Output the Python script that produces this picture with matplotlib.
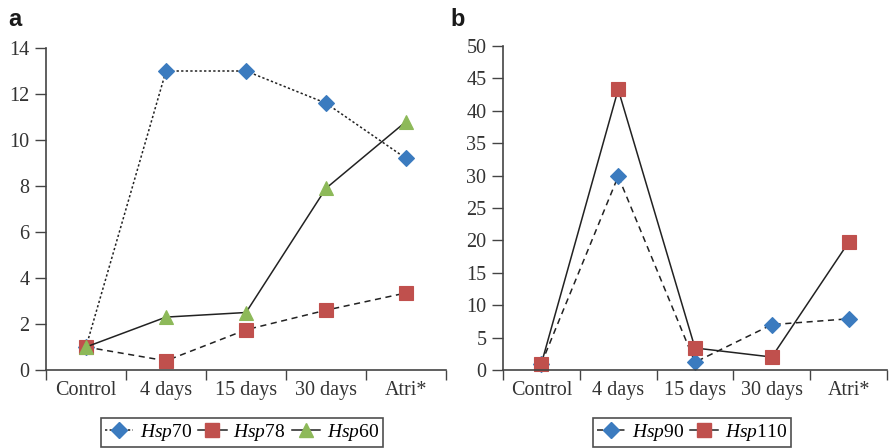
import matplotlib.pyplot as plt
from matplotlib.lines import Line2D

plt.rcParams["font.family"] = "Liberation Serif"
plt.rcParams["mathtext.fontset"] = "custom"
plt.rcParams["mathtext.it"] = "Liberation Serif:italic"
plt.rcParams["mathtext.rm"] = "Liberation Serif"

categories = ["Control", "4 days", "15 days", "30 days", "Atri*"]

hsp70 = [1.0, 13.0, 13.0, 11.6, 9.2]
hsp78 = [1.0, 0.4, 1.75, 2.6, 3.35]
hsp60 = [1.0, 2.3, 2.5, 7.9, 10.8]

hsp90 = [1.0, 29.9, 1.2, 7.0, 7.9]
hsp110 = [1.0, 43.3, 3.4, 2.0, 19.7]

blue = "#3b7bbf"
red = "#c0504d"
green = "#8db959"
ink = "#222222"
axcol = "#444444"

fig = plt.figure(figsize=(8.89, 4.48), dpi=100)
ax1 = fig.add_axes([46 / 889, 1 - 370 / 448, 400 / 889, 322 / 448])
ax2 = fig.add_axes([503 / 889, 1 - 370 / 448, 384 / 889, 324 / 448])

x = list(range(len(categories)))

def style(ax, ymax, ystep):
    ax.set_xlim(-0.5, len(categories) - 0.5)
    ax.set_ylim(0, ymax)
    ax.set_yticks(range(0, ymax + 1, ystep))
    ax.set_xticks([i - 0.5 for i in range(len(categories) + 1)])
    ax.set_xticklabels([])
    ax.set_xticks(x, minor=True)
    ax.set_xticklabels(categories, minor=True)
    ax.tick_params(axis="x", which="minor", length=0, pad=8)
    ax.tick_params(axis="x", which="major", length=7, width=1, color=axcol)
    ax.tick_params(axis="y", length=8, width=1, color=axcol, pad=4)
    ax.tick_params(which="both", labelsize=14.5, labelcolor="#333333")
    for s in ["top", "right"]:
        ax.spines[s].set_visible(False)
    for s in ["left", "bottom"]:
        ax.spines[s].set_color(axcol)
        ax.spines[s].set_linewidth(1.2)
        ax.spines[s].set_clip_on(False)

def series(ax, y, ls, marker, color, ms):
    ax.plot(x, y, linestyle=ls, color=ink, linewidth=1.1, marker=marker,
            markersize=ms, markerfacecolor=color, markeredgecolor=color,
            markeredgewidth=0.8, clip_on=False)

series(ax1, hsp70, (0, (1.5, 1.5)), "D", blue, 8)
series(ax1, hsp78, (0, (4, 3)), "s", red, 9.5)
series(ax1, hsp60, "-", "^", green, 10.5)
style(ax1, 14, 2)

series(ax2, hsp90, (0, (4, 3)), "D", blue, 8)
series(ax2, hsp110, "-", "s", red, 9.5)
style(ax2, 50, 5)

def handle(ls, marker, color, ms):
    return Line2D([], [], linestyle=ls, color=ink, linewidth=1.1, marker=marker,
                  markersize=ms, markerfacecolor=color, markeredgecolor=color)

leg_kw = dict(loc="lower center", ncol=3, fontsize=14, frameon=True, fancybox=False,
              handlelength=1.45, handletextpad=0.35, columnspacing=0.3,
              borderpad=0.2, borderaxespad=0)

h1 = [handle((0, (1.5, 1.5)), "D", blue, 8), handle("-", "s", red, 9.5),
      handle("-", "^", green, 10.5)]
l1 = [r"$\mathit{Hsp}$70", r"$\mathit{Hsp}$78", r"$\mathit{Hsp}$60"]
leg1 = ax1.legend(h1, l1, bbox_to_anchor=(242 / 889, 1 / 448),
                  bbox_transform=fig.transFigure, **leg_kw)
leg1.get_frame().set_edgecolor(ink)
leg1.get_frame().set_linewidth(1.2)

h2 = [handle((0, (4, 3)), "D", blue, 8), handle("-", "s", red, 9.5)]
l2 = [r"$\mathit{Hsp}$90", r"$\mathit{Hsp}$110"]
leg2 = ax2.legend(h2, l2, bbox_to_anchor=(692 / 889, 1 / 448),
                  bbox_transform=fig.transFigure, **leg_kw)
leg2.get_frame().set_edgecolor(ink)
leg2.get_frame().set_linewidth(1.2)

fig.text(8 / 889, 1 - 26 / 448, "a", fontsize=17, fontweight="bold",
         family="Liberation Sans", color="#1a1a1a")
fig.text(450 / 889, 1 - 26 / 448, "b", fontsize=17, fontweight="bold",
         family="Liberation Sans", color="#1a1a1a")

fig.savefig("out.png", dpi=100)
